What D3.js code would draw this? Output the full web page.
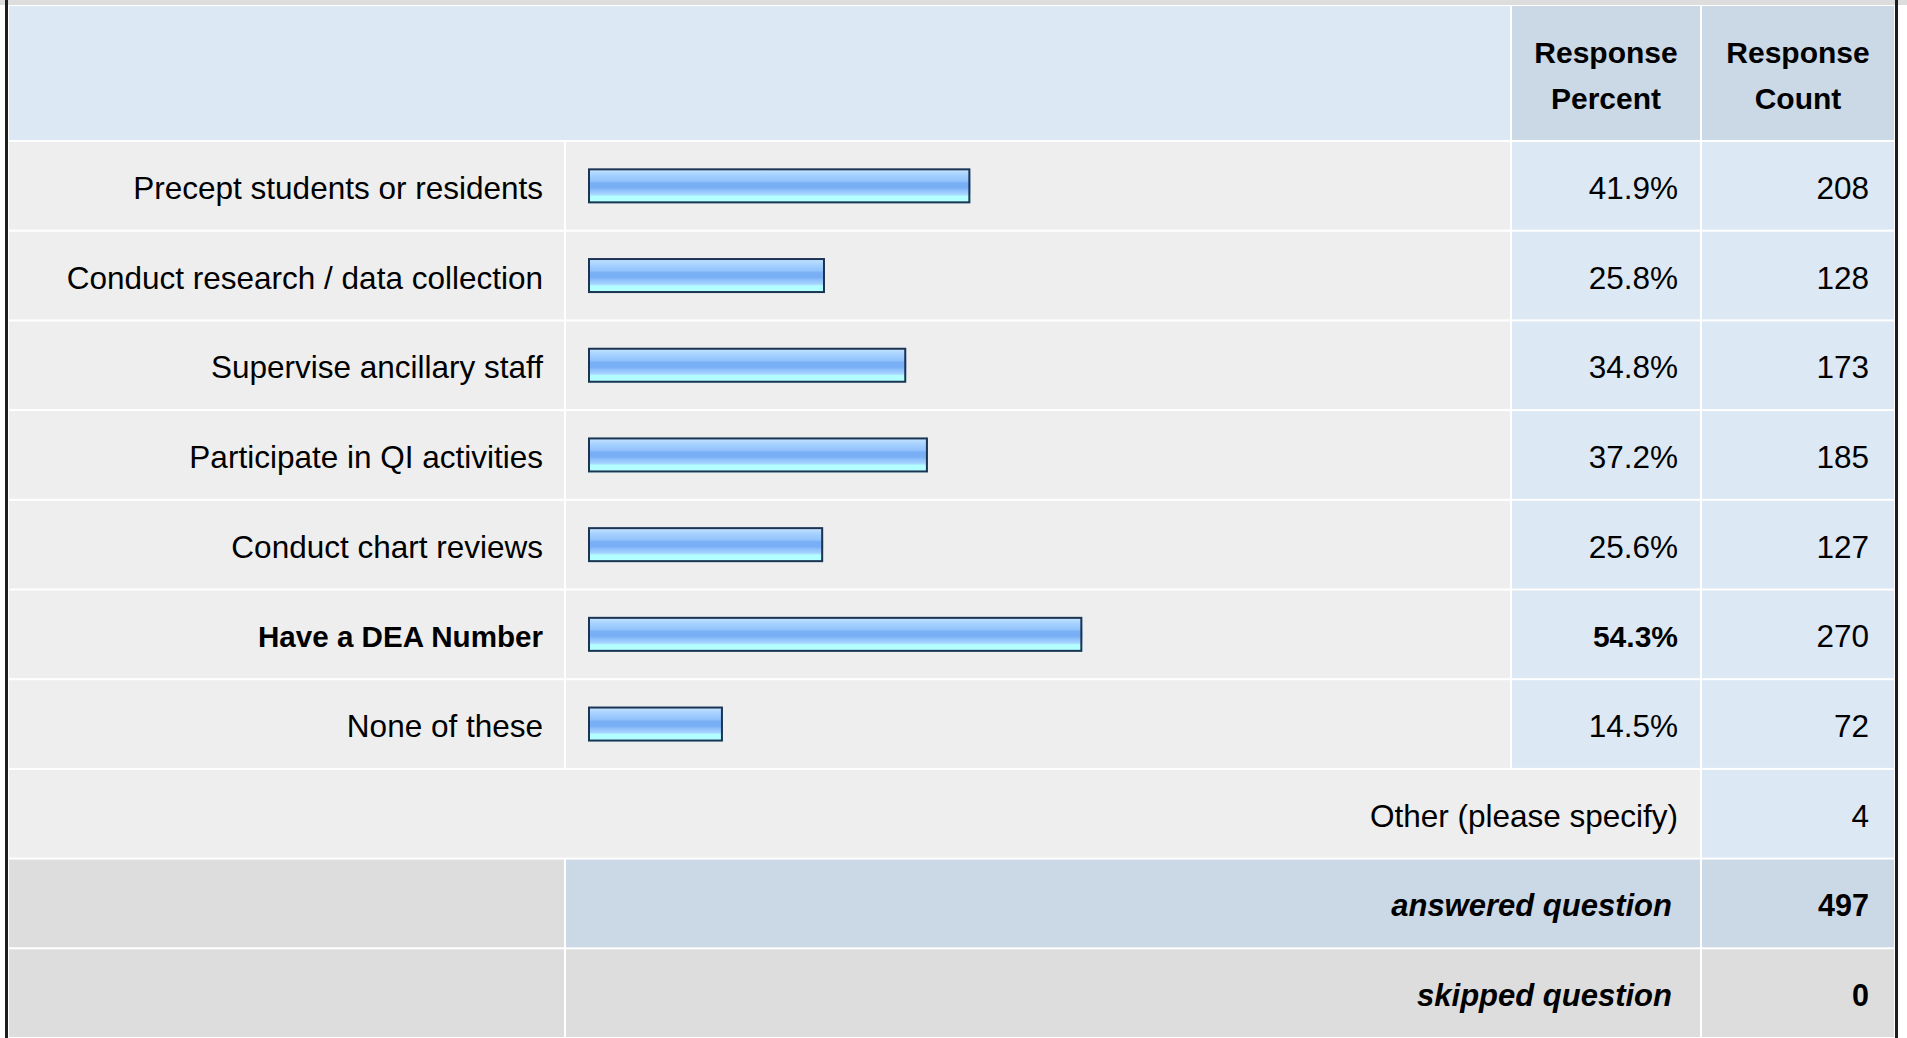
<!DOCTYPE html>
<html>
<head>
<meta charset="utf-8">
<script src="https://cdn.jsdelivr.net/npm/d3@7/dist/d3.min.js"></script>
<style>
  html, body { margin: 0; padding: 0; background: #ffffff; }
  svg { display: block; }
  text { font-family: "Liberation Sans", Arial, Helvetica, sans-serif; fill: #000; }
</style>
</head>
<body>
<svg id="chart" width="1907" height="1038"></svg>
<script>
// Survey answer choices, with the share and number of respondents for each
const categories = [
  "Precept students or residents",
  "Conduct research / data collection",
  "Supervise ancillary staff",
  "Participate in QI activities",
  "Conduct chart reviews",
  "Have a DEA Number",
  "None of these"
];
const percents = [41.9, 25.8, 34.8, 37.2, 25.6, 54.3, 14.5];
const counts = [208, 128, 173, 185, 127, 270, 72];
const headerLabels = [["Response", "Percent"], ["Response", "Count"]];
const otherLabel = "Other (please specify)";
const otherCount = 4;
const answeredLabel = "answered question";
const answeredCount = 497;
const skippedLabel = "skipped question";
const skippedCount = 0;
const topChoice = "Have a DEA Number";

const W = 1907, H = 1038;
const svg = d3.select("#chart");

const C = {
  strip: "#dddddd",
  light: "#eeeeee",
  blue: "#dde8f5",
  blueDark: "#cbd8e6",
  grey: "#dddddd",
  border: "#1e1e1e",
  barStroke: "#1c3352"
};

// column edges
const col = {
  label: [9, 564],
  bar: [566, 1510],
  pct: [1512, 1700],
  cnt: [1702, 1894]
};

// vertical layout: header then 10 body rows
const headerTop = 6, headerBottom = 140;
const nRows = categories.length + 3;
const rowY = d3.scaleLinear().domain([0, nRows]).range([headerBottom, 1037]);
const rowTop = i => rowY(i) + 2;
const rowBottom = i => rowY(i + 1);
const rowMid = i => (rowTop(i) + rowBottom(i)) / 2;

// bar scale (percent of respondents); bars carry a small border allowance on the left
const x = d3.scaleLinear().domain([0, 100]).range([592, 1495]);
const barInset = 4;

// gradient for the glossy bars
const defs = svg.append("defs");
const grad = defs.append("linearGradient")
  .attr("id", "barGrad").attr("x1", 0).attr("y1", 0).attr("x2", 0).attr("y2", 1);
[
  [0, "#d8efff"], [0.1, "#b6dbff"], [0.22, "#a2cfff"], [0.36, "#94c3fc"],
  [0.42, "#79aff5"], [0.56, "#79aff5"], [0.62, "#8cbffb"], [0.74, "#a6d3ff"],
  [0.8, "#b3ffff"], [1, "#b3ffff"]
].forEach(([o, c]) => grad.append("stop").attr("offset", o).attr("stop-color", c));

function cell(x0, x1, y0, y1, fill) {
  svg.append("rect").attr("x", x0).attr("y", y0)
    .attr("width", x1 - x0).attr("height", y1 - y0).attr("fill", fill);
}

// top strip from the row above
cell(0, W, 0, 5, C.strip);

// header
cell(col.label[0], col.bar[1], headerTop, headerBottom, C.blue);
cell(col.pct[0], col.pct[1], headerTop, headerBottom, C.blueDark);
cell(col.cnt[0], col.cnt[1], headerTop, headerBottom, C.blueDark);
[col.pct, col.cnt].forEach((c, k) => {
  const cx = (c[0] + c[1]) / 2;
  headerLabels[k].forEach((t, j) => {
    svg.append("text").attr("x", cx).attr("y", 63 + j * 46)
      .attr("text-anchor", "middle").attr("font-weight", "bold")
      .attr("font-size", 30).text(t);
  });
});

// answer rows
categories.forEach((cat, i) => {
  const y0 = rowTop(i), y1 = rowBottom(i), ym = rowMid(i);
  const strong = cat === topChoice;
  cell(col.label[0], col.label[1], y0, y1, C.light);
  cell(col.bar[0], col.bar[1], y0, y1, C.light);
  cell(col.pct[0], col.pct[1], y0, y1, C.blue);
  cell(col.cnt[0], col.cnt[1], y0, y1, C.blue);

  svg.append("text").attr("x", 543).attr("y", ym + 13)
    .attr("text-anchor", "end")
    .attr("font-size", strong ? 29.6 : 31.5)
    .attr("font-weight", strong ? "bold" : "normal")
    .text(cat);

  const bx0 = x(0) - barInset, bx1 = x(percents[i]);
  const by0 = ym - 17.5, bh = 35;
  svg.append("rect").attr("x", bx0).attr("y", by0)
    .attr("width", bx1 - bx0).attr("height", bh).attr("fill", "url(#barGrad)");
  svg.append("rect").attr("x", bx0 + 1).attr("y", by0 + 1)
    .attr("width", bx1 - bx0 - 2).attr("height", bh - 2)
    .attr("fill", "none").attr("stroke", C.barStroke).attr("stroke-width", 2);

  svg.append("text").attr("x", 1678).attr("y", ym + 13)
    .attr("text-anchor", "end")
    .attr("font-size", strong ? 30 : 31.5)
    .attr("font-weight", strong ? "bold" : "normal")
    .text(d3.format(".1f")(percents[i]) + "%");
  svg.append("text").attr("x", 1869).attr("y", ym + 13)
    .attr("text-anchor", "end").attr("font-size", 31.5)
    .text(counts[i]);
});

// "Other" row
let r = categories.length;
cell(col.label[0], col.pct[1], rowTop(r), rowBottom(r), C.light);
cell(col.cnt[0], col.cnt[1], rowTop(r), rowBottom(r), C.blue);
svg.append("text").attr("x", 1678).attr("y", rowMid(r) + 13)
  .attr("text-anchor", "end").attr("font-size", 31.5).text(otherLabel);
svg.append("text").attr("x", 1869).attr("y", rowMid(r) + 13)
  .attr("text-anchor", "end").attr("font-size", 31.5).text(otherCount);

// summary rows
[[answeredLabel, answeredCount, C.blueDark], [skippedLabel, skippedCount, C.grey]]
  .forEach(([label, n, fill], k) => {
    const i = categories.length + 1 + k;
    cell(col.label[0], col.label[1], rowTop(i), rowBottom(i), C.grey);
    cell(col.bar[0], col.pct[1], rowTop(i), rowBottom(i), fill);
    cell(col.cnt[0], col.cnt[1], rowTop(i), rowBottom(i), fill);
    svg.append("text").attr("x", 1672).attr("y", rowMid(i) + 13)
      .attr("text-anchor", "end").attr("font-size", 31)
      .attr("font-weight", "bold").attr("font-style", "italic").text(label);
    svg.append("text").attr("x", 1869).attr("y", rowMid(i) + 13)
      .attr("text-anchor", "end").attr("font-size", 30.5)
      .attr("font-weight", "bold").text(n);
  });

// outer table border (left and right edges)
svg.append("rect").attr("x", 5).attr("y", 0).attr("width", 3).attr("height", H).attr("fill", C.border);
svg.append("rect").attr("x", 1895).attr("y", 0).attr("width", 3).attr("height", H).attr("fill", C.border);
</script>
</body>
</html>
